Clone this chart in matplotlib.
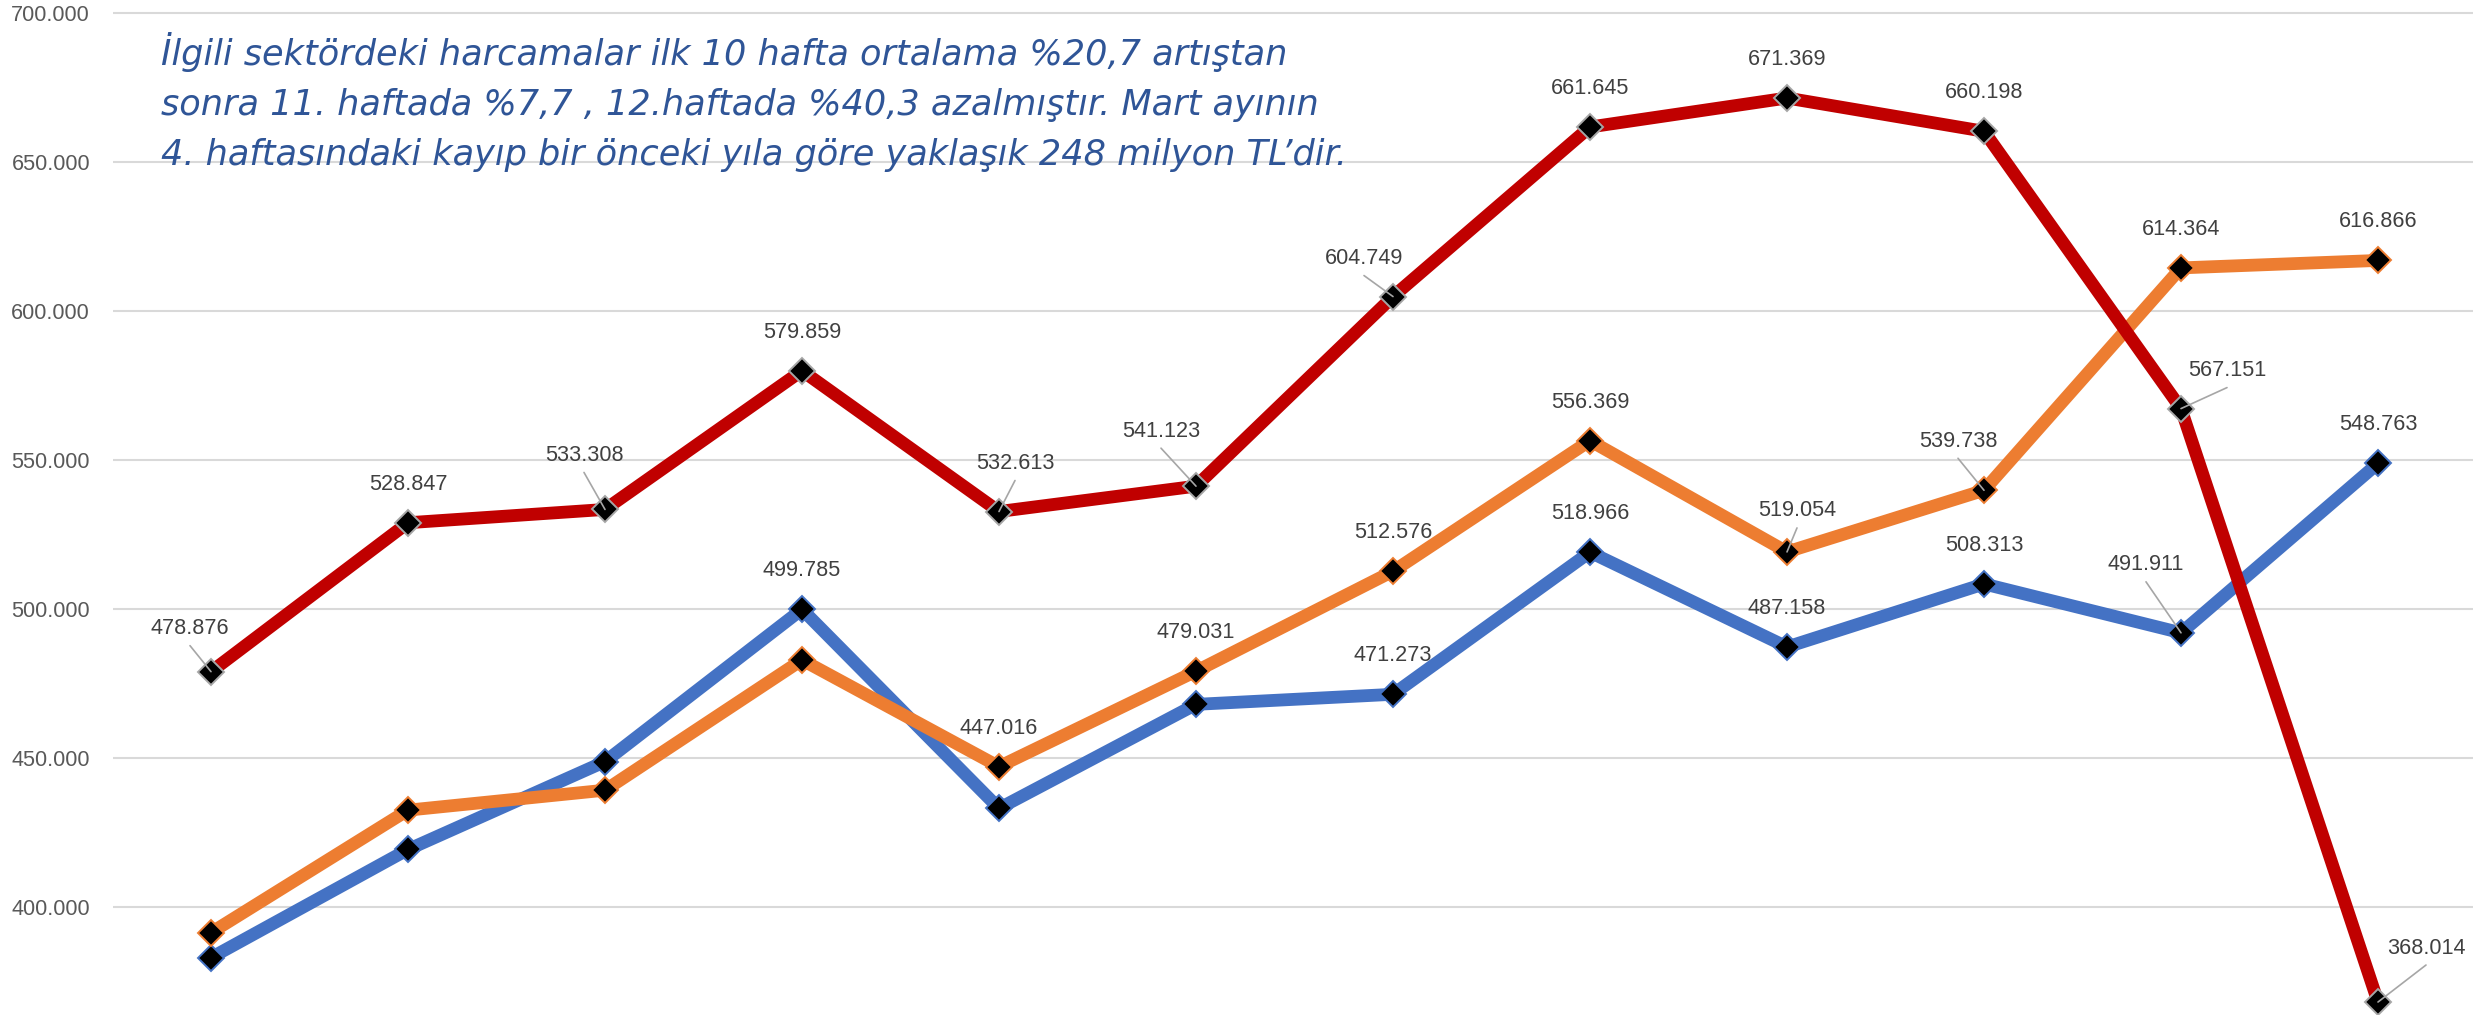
import matplotlib
matplotlib.use("Agg")
import matplotlib.pyplot as plt
from matplotlib.ticker import FixedLocator, FuncFormatter

# ---------------- data ----------------
weeks = list(range(1, 13))
red_values = [478876, 528847, 533308, 579859, 532613, 541123,
              604749, 661645, 671369, 660198, 567151, 368014]
orange_values = [391300, 432400, 439100, 482800, 447016, 479031,
                 512576, 556369, 519054, 539738, 614364, 616866]
blue_values = [382900, 419200, 448700, 499785, 433000, 467900,
               471273, 518966, 487158, 508313, 491911, 548763]
red_labeled = [1, 2, 3, 4, 5, 6, 7, 8, 9, 10, 11, 12]
orange_labeled = [5, 6, 7, 8, 9, 10, 11, 12]
blue_labeled = [4, 7, 8, 9, 10, 11, 12]
y_ticks = [400000, 450000, 500000, 550000, 600000, 650000, 700000]
title_lines = [
    "İlgili sektördeki harcamalar ilk 10 hafta ortalama %20,7 artıştan",
    "sonra 11. haftada %7,7 , 12.haftada %40,3 azalmıştır. Mart ayının",
    "4. haftasındaki kayıp bir önceki yıla göre yaklaşık 248 milyon TL’dir.",
]

# ---------------- style ----------------
W, H, DPI = 2473, 1015, 100
RED, ORANGE, BLUE = "#C00000", "#ED7D31", "#4472C4"
LABEL_FONT = ["Liberation Sans", "DejaVu Sans"]
LABEL_SIZE = 15.6
DEFAULT_OFF = (0, -38.5)       # label centre offset in pixels (image coords, y down)
LEADER_GAP = 17                # leader line starts this far below label centre
custom_off = {
    ("red", 1): (-21, -43), ("red", 3): (-21, -54), ("red", 5): (16, -48),
    ("red", 6): (-35, -55), ("red", 7): (-29, -38), ("red", 11): (46, -38),
    ("red", 12): (48, -54), ("orange", 9): (10, -41), ("orange", 10): (-26, -49),
    ("blue", 11): (-35, -68),
}


def fmt(v):
    return f"{int(round(v)):,}".replace(",", ".")


fig = plt.figure(figsize=(W / DPI, H / DPI), dpi=DPI)
left_px = 113
ax = fig.add_axes([left_px / W, 0, 1 - left_px / W, 1])

px_per_unit = 197.0
x0_px = 211
ax.set_xlim(1 - (x0_px - left_px) / px_per_unit, 12 + (W - (x0_px + 11 * px_per_unit)) / px_per_unit)
ax.set_ylim(363660, 704260)

for s in ax.spines.values():
    s.set_visible(False)
ax.set_xticks([])
ax.yaxis.set_major_locator(FixedLocator(y_ticks))
ax.yaxis.set_major_formatter(FuncFormatter(lambda v, p: fmt(v)))
ax.tick_params(axis="y", length=0, pad=16.5, labelsize=LABEL_SIZE, labelcolor="#595959")
for t in ax.get_yticklabels():
    t.set_fontfamily(LABEL_FONT)
ax.grid(axis="y", color="#D9D9D9", linewidth=1.5)
ax.set_axisbelow(True)

series = [
    ("blue", blue_values, BLUE, BLUE, blue_labeled),
    ("orange", orange_values, ORANGE, ORANGE, orange_labeled),
    ("red", red_values, RED, "#A6A6A6", red_labeled),
]
z = 3
for name, vals, col, edge, _ in series:
    ax.plot(weeks, vals, color=col, lw=9.2, solid_joinstyle="miter", zorder=z,
            marker="D", ms=13.5, mfc="black", mec=edge, mew=1.4)
    z += 1

for name, vals, col, edge, labeled in series:
    for w in labeled:
        v = vals[weeks.index(w)]
        dx, dy = custom_off.get((name, w), DEFAULT_OFF)
        ax.annotate(fmt(v), xy=(w, v), xytext=(dx, -dy), textcoords="offset pixels",
                    ha="center", va="center", fontsize=LABEL_SIZE, color="#404040",
                    family=LABEL_FONT, zorder=20, annotation_clip=False)
        if (name, w) in custom_off:
            ax.annotate("", xy=(w, v), xytext=(dx, -dy - LEADER_GAP), textcoords="offset pixels",
                        arrowprops=dict(arrowstyle="-", color="#A6A6A6", lw=1.2,
                                        shrinkA=0, shrinkB=0),
                        zorder=21, annotation_clip=False)

baselines = [65, 115, 165]
for line, b in zip(title_lines, baselines):
    fig.text(161 / W, 1 - b / H, line, ha="left", va="baseline", fontsize=25.3,
             style="italic", color="#2F5597", family=["DejaVu Sans"])

fig.savefig("out.png", dpi=DPI)
